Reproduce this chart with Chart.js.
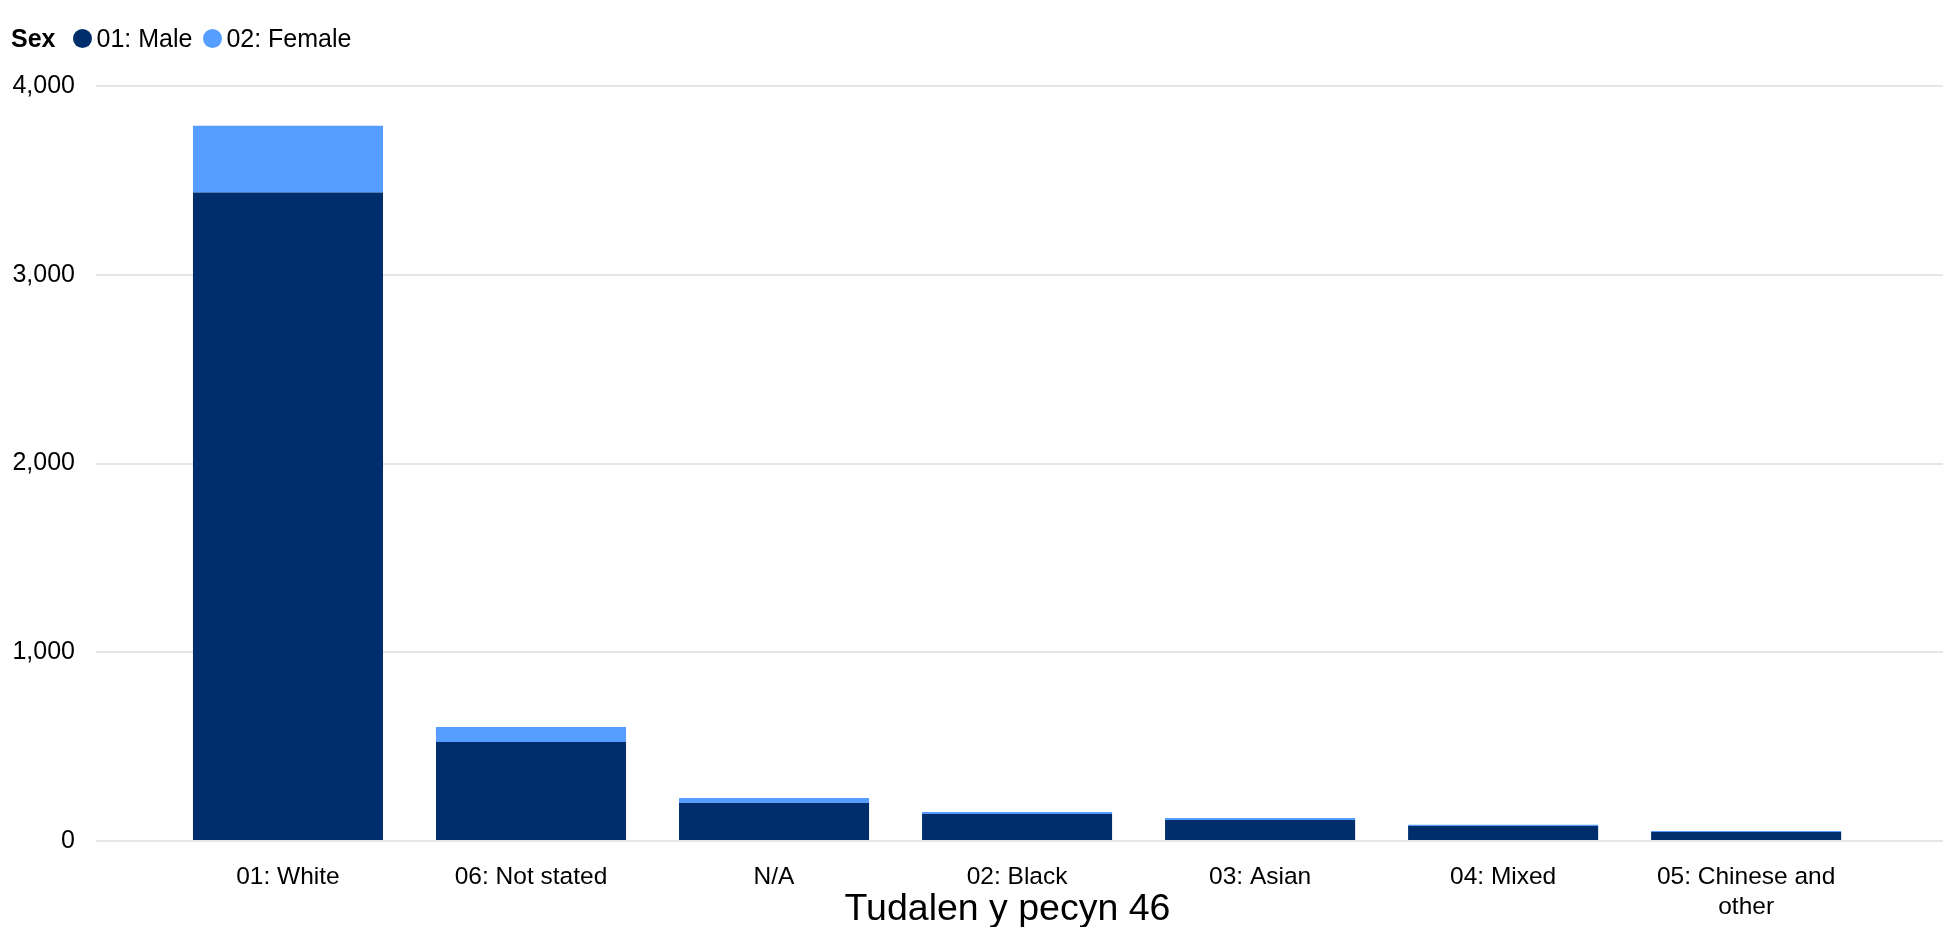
<!DOCTYPE html>
<html>
<head>
<meta charset="utf-8">
<script src="https://cdn.jsdelivr.net/npm/chart.js@4/dist/chart.umd.min.js"></script>
<style>
  html, body { margin: 0; padding: 0; background: #fff; }
  #wrap { position: relative; width: 1953px; height: 927px; }
  #legend { position: absolute; left: 11px; top: 24px; display: flex; align-items: center;
            font-family: "Liberation Sans", Arial, sans-serif; font-size: 25px; color: #000; line-height: 28px; }
  #legend .ttl { font-weight: bold; margin-right: 18px; }
  #legend .item { display: flex; align-items: center; margin-right: 11px; }
  #legend .dot { width: 19px; height: 19px; border-radius: 50%; margin-right: 4px; }
</style>
</head>
<body>
<div id="wrap">
  <canvas id="c" width="1953" height="927"></canvas>
  <div id="legend"></div>
</div>
<script>
const categories = ['01: White', '06: Not stated', 'N/A', '02: Black', '03: Asian', '04: Mixed', '05: Chinese and other'];
const seriesNames = ['01: Male', '02: Female'];
const maleValues = [3436, 525, 201, 143, 111, 80, 48];
const femaleValues = [353, 79, 27, 11, 11, 6, 5];
const yTicks = [0, 1000, 2000, 3000, 4000];
const legendTitle = 'Sex';
const pageLabel = 'Tudalen y pecyn 46';

const colors = ['#002D6B', '#559DFF'];
const FONT = '"Liberation Sans", Arial, sans-serif';

function wrap(label, maxChars) {
  const words = label.split(' ');
  const lines = [];
  let cur = '';
  for (const w of words) {
    const t = cur ? cur + ' ' + w : w;
    if (t.length > maxChars && cur) { lines.push(cur); cur = w; } else { cur = t; }
  }
  if (cur) lines.push(cur);
  return lines.length > 1 ? lines : lines[0];
}

// HTML legend
const lg = document.getElementById('legend');
const ttl = document.createElement('span');
ttl.className = 'ttl'; ttl.textContent = legendTitle; lg.appendChild(ttl);
seriesNames.forEach((n, i) => {
  const it = document.createElement('span'); it.className = 'item';
  const d = document.createElement('span'); d.className = 'dot'; d.style.background = colors[i];
  const t = document.createElement('span'); t.textContent = n;
  it.appendChild(d); it.appendChild(t); lg.appendChild(it);
});

const pageLabelPlugin = {
  id: 'pageLabel',
  afterDraw(chart) {
    const ctx = chart.ctx;
    const a = chart.chartArea;
    ctx.save();
    ctx.font = '37.5px ' + FONT;
    ctx.fillStyle = '#000';
    ctx.textAlign = 'center';
    ctx.textBaseline = 'alphabetic';
    ctx.fillText(pageLabel, (a.left + a.right) / 2 - 12, chart.height - 7);
    ctx.restore();
  }
};

new Chart(document.getElementById('c'), {
  type: 'bar',
  data: {
    datasets: [
      { label: seriesNames[0], data: maleValues.map((v, i) => ({ x: i, y: v })), backgroundColor: colors[0], stack: 's' },
      { label: seriesNames[1], data: femaleValues.map((v, i) => ({ x: i, y: v })), backgroundColor: colors[1], stack: 's' }
    ]
  },
  options: {
    responsive: false,
    animation: false,
    devicePixelRatio: 1,
    categoryPercentage: 1,
    barPercentage: 0.782,
    layout: { padding: { top: 86, left: 13, right: 10, bottom: 0 } },
    plugins: { legend: { display: false }, tooltip: { enabled: false } },
    scales: {
      x: {
        type: 'linear',
        offset: false,
        min: -0.79,
        max: 6.81,
        afterBuildTicks(scale) { scale.ticks = categories.map((_, i) => ({ value: i })); },
        afterFit(scale) { scale.height = 86; scale.paddingLeft = 0; scale.paddingRight = 0; },
        grid: { display: false, drawTicks: false },
        border: { display: false },
        ticks: {
          autoSkip: false, maxRotation: 0, minRotation: 0, padding: 22,
          font: { family: FONT, size: 24.5 }, color: '#000',
          callback: (v) => wrap(categories[v] || '', 16)
        }
      },
      y: {
        stacked: true,
        min: 0, max: 4000,
        afterBuildTicks(scale) { scale.ticks = yTicks.map(v => ({ value: v })); },
        afterFit(scale) { scale.width = 83; },
        grid: { color: '#e6e6e6', lineWidth: 2, drawTicks: false },
        border: { display: false },
        ticks: {
          padding: 21,
          font: { family: FONT, size: 25 }, color: '#000',
          callback: (v) => v.toLocaleString('en-US')
        }
      }
    }
  },
  plugins: [pageLabelPlugin]
});
</script>
</body>
</html>
